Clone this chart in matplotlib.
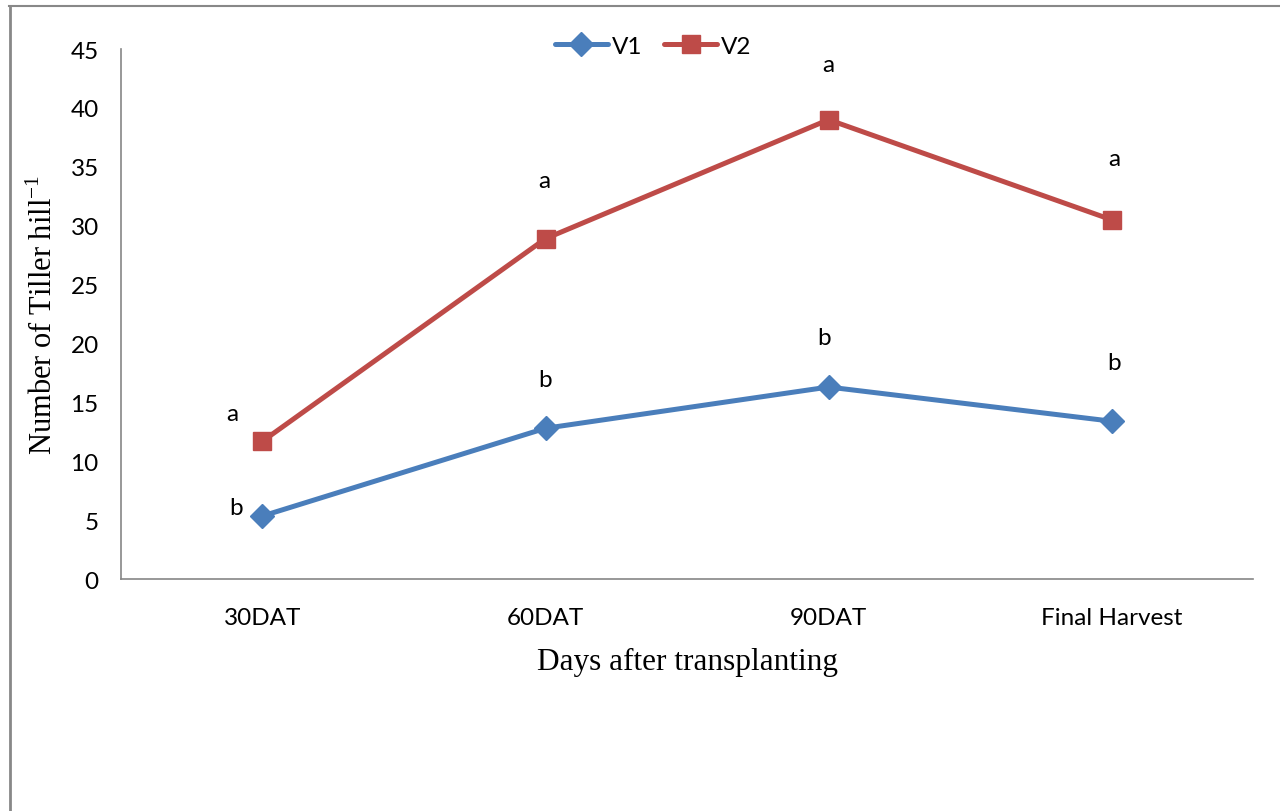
import matplotlib
matplotlib.use("Agg")
import matplotlib.pyplot as plt
from matplotlib.lines import Line2D

categories = ["30DAT", "60DAT", "90DAT", "Final Harvest"]
v1 = [5.35, 12.8, 16.3, 13.4]
v2 = [11.7, 28.9, 39.0, 30.5]
v1_letters = ["b", "b", "b", "b"]
v2_letters = ["a", "a", "a", "a"]
yticks = [0, 5, 10, 15, 20, 25, 30, 35, 40, 45]

c1 = "#4A7EBB"
c2 = "#BE4B48"
tick_font = "Lato"
serif = "Liberation Serif"
fs = 17.5

fig = plt.figure(figsize=(12.8, 8.12), dpi=100)
ax = fig.add_axes([0.0945, 0.2857, 0.8845, 0.6527])
x = list(range(len(categories)))

ax.plot(x, v1, color=c1, lw=3.6, marker="D", markersize=12, label="V1", solid_capstyle="round")
ax.plot(x, v2, color=c2, lw=3.6, marker="s", markersize=13, label="V2", solid_capstyle="round")

# letter annotations (offset in points from data points)
v1_off = [(-19, 6), (0, 35), (-3, 36), (2, 42)]
v2_off = [(-22, 20), (-1, 42), (0, 40), (2, 44)]
for i in x:
    ax.annotate(v1_letters[i], (x[i], v1[i]), xytext=v1_off[i], textcoords="offset points",
                ha="center", va="center", fontsize=fs, family=tick_font)
    ax.annotate(v2_letters[i], (x[i], v2[i]), xytext=v2_off[i], textcoords="offset points",
                ha="center", va="center", fontsize=fs, family=tick_font)

ax.set_xlim(-0.5, len(categories) - 0.5)
ax.set_ylim(0, 45)
ax.set_yticks(yticks)
ax.set_xticks(x)
ax.set_xticklabels(categories, family=tick_font, fontsize=fs)
ax.set_yticklabels([str(t) for t in yticks], family=tick_font, fontsize=fs)
ax.tick_params(axis="y", length=0, pad=16)
ax.tick_params(axis="x", length=0, pad=20)
for s in ["top", "right"]:
    ax.spines[s].set_visible(False)
for s in ["left", "bottom"]:
    ax.spines[s].set_color("#868686")
    ax.spines[s].set_linewidth(1.2)

ax.set_xlabel("Days after transplanting", family=serif, fontsize=22.5, labelpad=14)
ax.set_ylabel(r"Number of Tiller hill$^{\mathregular{-1}}$", family=serif, fontsize=22, labelpad=8)

leg = ax.legend(loc="center", bbox_to_anchor=(0.47, 1.005), ncol=2, frameon=False,
                prop={"family": tick_font, "size": fs}, handlelength=2.2,
                columnspacing=0.9, handletextpad=0.15, borderaxespad=0)

# outer border (top and left edges visible)
fig.add_artist(Line2D([0.007, 1.0], [0.9915, 0.9915], color="#888888", lw=1.5, transform=fig.transFigure))
fig.add_artist(Line2D([0.0075, 0.0075], [0.0, 0.9915], color="#888888", lw=2.0, transform=fig.transFigure))

fig.savefig("out.png", dpi=100)
